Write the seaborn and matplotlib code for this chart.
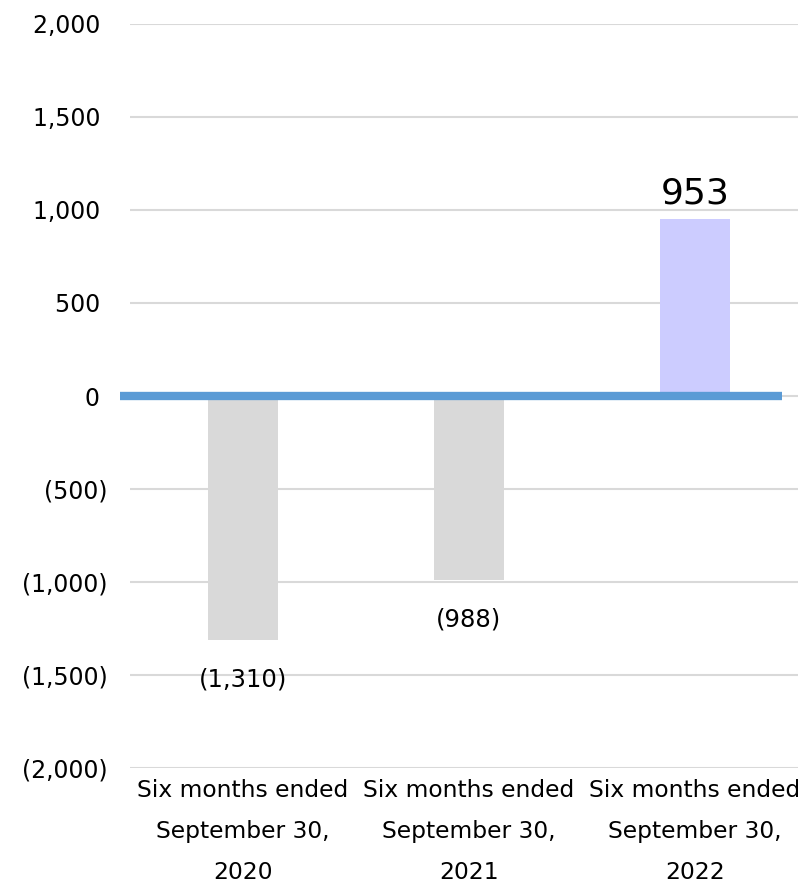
import matplotlib
matplotlib.use("Agg")
import matplotlib.pyplot as plt
import seaborn as sns
import pandas as pd

categories = [
    "Six months ended\nSeptember 30,\n2020",
    "Six months ended\nSeptember 30,\n2021",
    "Six months ended\nSeptember 30,\n2022",
]
values = [-1310, -988, 953]
value_labels = ["(1,310)", "(988)", "953"]
bar_colors = ["#d9d9d9", "#d9d9d9", "#ccccff"]
y_ticks = [-2000, -1500, -1000, -500, 0, 500, 1000, 1500, 2000]
# positives carry a trailing space, like an Excel "#,##0_);(#,##0)" format
y_tick_labels = ["(2,000)", "(1,500)", "(1,000)", "(500)", "0 ", "500 ", "1,000 ", "1,500 ", "2,000 "]

df = pd.DataFrame({"period": categories, "value": values})

sns.set_theme(style="white")
plt.rcParams["font.family"] = ["DejaVu Sans"]

fig = plt.figure(figsize=(7.98, 8.88), dpi=100)
ax = fig.add_axes([130 / 798, 120 / 888, 678 / 798, 744 / 888])

sns.barplot(data=df, x="period", y="value", hue="period", palette=bar_colors,
            legend=False, width=0.31, saturation=1, linewidth=0, ax=ax)

ax.set_ylim(-2000, 2000)
ax.set_xlim(-0.5, 2.5)
ax.set_yticks(y_ticks)
ax.set_yticklabels(y_tick_labels)
ax.yaxis.grid(True, color="#d9d9d9", linewidth=1.5)
ax.set_axisbelow(True)
for s in ax.spines.values():
    s.set_visible(False)
ax.tick_params(axis="y", length=0, pad=16, labelsize=17, labelcolor="black")
ax.tick_params(axis="x", length=0, pad=8, labelsize=16.8, labelcolor="black")
for lbl in ax.get_xticklabels():
    lbl.set_linespacing(2.0)
ax.set_xlabel("")
ax.set_ylabel("")

# zero line
ax.plot([-10 / 678, 652 / 678], [0, 0], transform=ax.get_yaxis_transform(),
        color="#5b9bd5", linewidth=6, clip_on=False, solid_capstyle="butt", zorder=5)

# value labels
for i, (v, t) in enumerate(zip(values, value_labels)):
    if v >= 0:
        ax.text(i, v + 45, t, ha="center", va="bottom", fontsize=26, color="black")
    else:
        ax.text(i, v - 215, t, ha="center", va="center", fontsize=17.5, color="black")

fig.savefig("out.png", dpi=100)
